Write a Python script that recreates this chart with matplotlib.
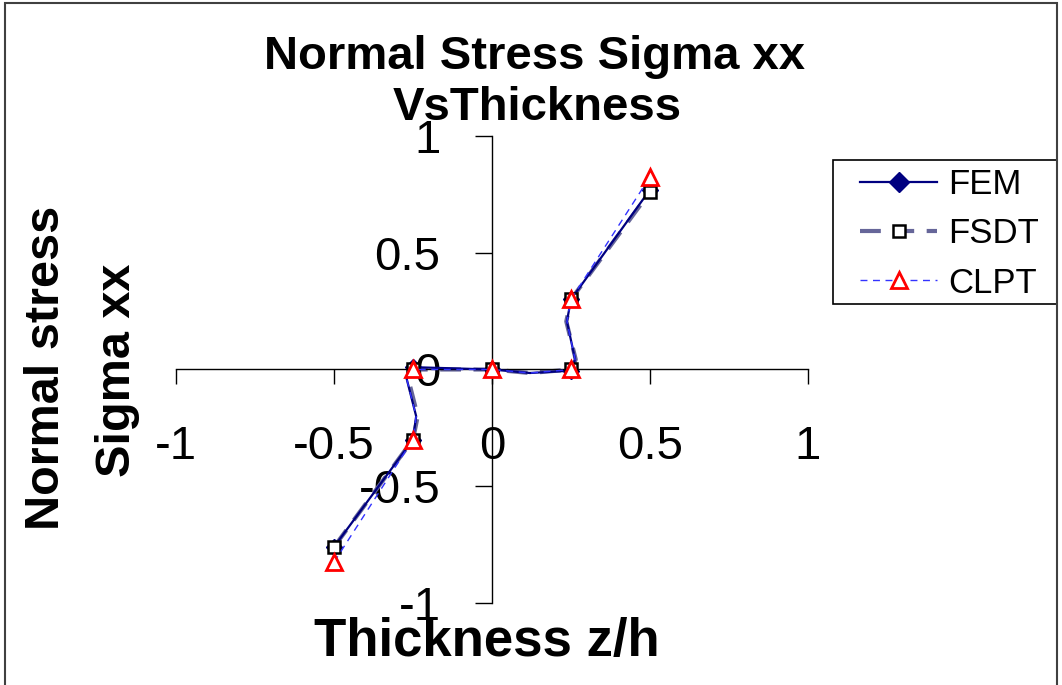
import matplotlib
matplotlib.use("Agg")
import matplotlib.pyplot as plt
from matplotlib.lines import Line2D
from matplotlib.patches import Rectangle

plt.rcParams['font.family'] = ['Liberation Sans', 'DejaVu Sans']

# ---- data ----
z_fem = [-0.5, -0.25, -0.24, -0.27, -0.25, 0.0, 0.12, 0.25, 0.263, 0.237, 0.25, 0.5]
sigma_fem = [-0.76, -0.30, -0.20, -0.04, 0.01, 0.0, -0.015, -0.005, 0.043, 0.206, 0.30, 0.77]

z_fsdt = [-0.5, -0.25, -0.235, -0.265, -0.25, 0.0, 0.12, 0.25, 0.265, 0.235, 0.25, 0.5]
sigma_fsdt = [-0.76, -0.30, -0.20, -0.04, 0.0, 0.0, -0.015, 0.0, 0.043, 0.206, 0.30, 0.76]

z_clpt = [-0.5, -0.25, -0.24, -0.27, -0.25, 0.0, 0.12, 0.25, 0.263, 0.237, 0.25, 0.5]
sigma_clpt = [-0.825, -0.30, -0.20, -0.04, 0.0, 0.0, -0.015, 0.0, 0.043, 0.206, 0.30, 0.825]

marker_idx = [0, 1, 4, 5, 7, 10, 11]

x_ticks = [-1, -0.5, 0, 0.5, 1]
y_ticks = [-1, -0.5, 0, 0.5, 1]
tick_labels = ['-1', '-0.5', '0', '0.5', '1']
series_names = ['FEM', 'FSDT', 'CLPT']

W, H = 1062, 685
fig = plt.figure(figsize=(W / 100, H / 100), dpi=100)
ax = fig.add_axes([176 / W, 1 - 603 / H, (808 - 176) / W, (603 - 136) / H])
ax.set_xlim(-1, 1)
ax.set_ylim(-1, 1)

fem_c = '#000080'
fsdt_c = '#666699'
clpt_c = '#3333FF'

# lines
ax.plot(z_fsdt, sigma_fsdt, color=fsdt_c, lw=3, dashes=(5, 3), zorder=2)
ax.plot(z_fem, sigma_fem, color=fem_c, lw=1.6, marker='D', ms=8,
        markevery=marker_idx, mfc=fem_c, mec=fem_c, zorder=3)
ax.plot(z_fsdt, sigma_fsdt, ls='none', marker='s', ms=9, mfc='white', mec='black',
        mew=1.8, markevery=marker_idx, zorder=4)
ax.plot(z_clpt, sigma_clpt, color=clpt_c, lw=1, dashes=(5, 4), marker='^', ms=11,
        mfc='white', mec='red', mew=2, markevery=marker_idx, zorder=5)

# axes crossing at origin
for s in ['top', 'right']:
    ax.spines[s].set_visible(False)
ax.spines['left'].set_position(('data', 0))
ax.spines['bottom'].set_position(('data', 0))
ax.spines['left'].set_linewidth(1)
ax.spines['bottom'].set_linewidth(1)
ax.set_xticks(x_ticks)
ax.set_xticklabels(tick_labels)
ax.set_yticks(y_ticks)
ax.set_yticklabels(tick_labels)
ax.tick_params(axis='x', direction='out', length=11, width=1, labelsize=34, pad=29)
ax.tick_params(axis='y', direction='out', length=12, width=1, labelsize=34, pad=25)
ax.patch.set_alpha(0)

# titles
fig.text(535 / W, 1 - 57 / H, 'Normal Stress Sigma xx', ha='center', va='center',
         fontsize=34, fontweight='bold')
fig.text(537 / W, 1 - 108 / H, 'VsThickness', ha='center', va='center',
         fontsize=34, fontweight='bold')
fig.text(47 / W, 1 - 368 / H, 'Normal stress', ha='center', va='center',
         fontsize=35, fontweight='bold', rotation=90)
fig.text(117 / W, 1 - 370 / H, 'Sigma xx', ha='center', va='center',
         fontsize=35, fontweight='bold', rotation=90)
fig.text(487 / W, 1 - 642 / H, 'Thickness z/h', ha='center', va='center',
         fontsize=38, fontweight='bold')

# legend
handles = [
    Line2D([], [], color=fem_c, lw=1.6, marker='D', ms=10, mfc=fem_c, mec=fem_c),
    Line2D([], [], color=fsdt_c, lw=3, dashes=(5, 3), marker='s', ms=9, mfc='white',
           mec='black', mew=1.8),
    Line2D([], [], color=clpt_c, lw=1, dashes=(5, 4), marker='^', ms=11, mfc='white',
           mec='red', mew=2),
]
leg = fig.legend(handles, series_names, loc='upper left',
                 bbox_to_anchor=(860 / W, 1 - 168 / H), bbox_transform=fig.transFigure,
                 borderaxespad=0, fontsize=25, handlelength=2.22, handletextpad=0.32,
                 labelspacing=0.47, borderpad=0, frameon=False)

# legend box
fig.patches.append(Rectangle((833 / W, 1 - 304 / H), (1057 - 833) / W, (304 - 160) / H,
                             transform=fig.transFigure, fill=False,
                             edgecolor='black', lw=1.2))

# chart border
fig.patches.append(Rectangle((5 / W, -0.05), (1057 - 5) / W, 1.05 - 3 / H,
                             transform=fig.transFigure, fill=False,
                             edgecolor='#404040', lw=1.5))

fig.savefig('out.png', dpi=100)
